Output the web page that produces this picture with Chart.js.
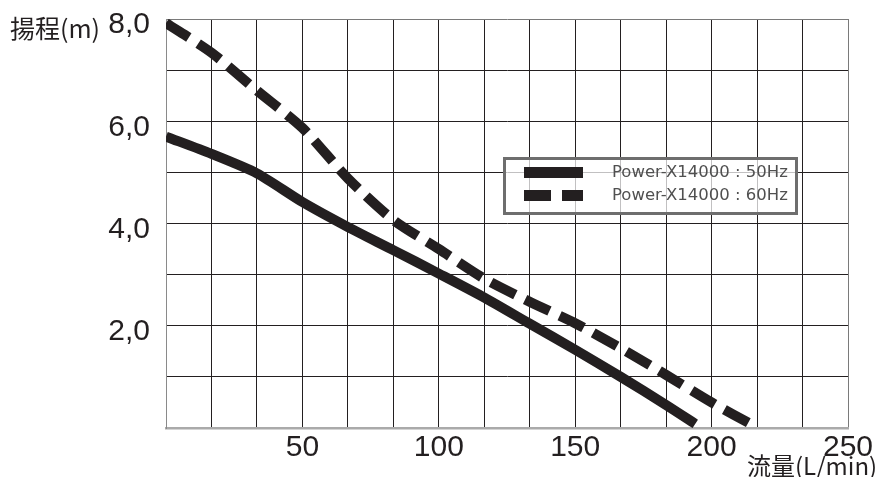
<!DOCTYPE html>
<html>
<head>
<meta charset="utf-8">
<script src="https://cdn.jsdelivr.net/npm/chart.js@4"></script>
<style>
  body { margin: 0; background: #fff; }
  #wrap { width: 875px; height: 477px; }
</style>
</head>
<body>
<div id="wrap"><canvas id="pumpChart"></canvas></div>
<script>
// flow (L/min) / head (m)
const flow50 = [0, 16.7, 33.3, 50, 66.7, 83.3, 100, 116.7, 133.3, 150, 166.7, 183.3, 194];
const head50 = [5.7, 5.36, 4.98, 4.42, 3.93, 3.48, 3.02, 2.55, 2.04, 1.53, 1.0, 0.45, 0.08];
const flow60 = [0, 16.7, 33.3, 50, 66.7, 83.3, 100, 116.7, 133.3, 150, 166.7, 183.3, 200, 216];
const head60 = [7.92, 7.34, 6.6, 5.87, 4.88, 4.07, 3.5, 2.92, 2.47, 2.05, 1.56, 1.04, 0.5, 0.03];
const seriesLabels = ['Power-X14000 : 50Hz', 'Power-X14000 : 60Hz'];
const xTickLabels = [50, 100, 150, 200, 250];
const yTickLabels = [2, 4, 6, 8];
const xTitle = '流量(L/min)';
const yTitle = '揚程(m)';

const ink = '#231f20';
const frame = '#7a7a7a';

function toPoints(xs, ys) {
  return xs.map((x, i) => ({ x: x, y: ys[i] }));
}

// axis titles + legend box inside the plot
const extras = {
  id: 'extras',
  afterDraw(chart) {
    const ctx = chart.ctx;
    ctx.save();
    ctx.fillStyle = ink;
    ctx.textBaseline = 'middle';
    ctx.font = '25px "Noto Sans CJK JP"';
    ctx.fillText(yTitle, 10, 28);
    ctx.font = '24px "Noto Sans CJK JP"';
    ctx.fillText(xTitle, 747, 466);

    // legend
    ctx.fillStyle = 'rgba(255,255,255,0.72)';
    ctx.fillRect(504, 158, 293, 56);
    ctx.strokeStyle = '#6e6e6e';
    ctx.lineWidth = 3;
    ctx.strokeRect(504.5, 158.5, 292, 55);
    const rows = [172.5, 195.5];
    chart.data.datasets.forEach((ds, i) => {
      ctx.beginPath();
      ctx.strokeStyle = ds.borderColor;
      ctx.lineWidth = 11;
      ctx.setLineDash(ds.borderDash || []);
      ctx.moveTo(524, rows[i]);
      ctx.lineTo(583, rows[i]);
      ctx.stroke();
      ctx.setLineDash([]);
      ctx.fillStyle = '#505050';
      ctx.font = '16.5px "DejaVu Sans"';
      ctx.fillText(ds.label, 612, rows[i] + 0.5);
    });
    ctx.restore();
  }
};

const ctx = document.getElementById('pumpChart').getContext('2d');
const pumpChart = new Chart(ctx, {
  type: 'line',
  data: {
    datasets: [{
      label: seriesLabels[0],
      data: toPoints(flow50, head50),
      borderColor: ink,
      borderWidth: 10,
      pointRadius: 0,
      tension: 0.25
    }, {
      label: seriesLabels[1],
      data: toPoints(flow60, head60),
      borderColor: ink,
      borderWidth: 10,
      borderDash: [27, 11],
      pointRadius: 0,
      tension: 0.25
    }]
  },
  options: {
    responsive: true,
    maintainAspectRatio: false,
    animation: false,
    layout: { padding: { top: 19, right: 27, left: 0, bottom: 0 } },
    plugins: {
      legend: { display: false },
      tooltip: { enabled: false }
    },
    scales: {
      x: {
        type: 'linear',
        min: 0,
        max: 250,
        afterFit: s => {
          s.height = 49;
          s.paddingLeft = 0; s.paddingRight = 0;
        },
        afterBuildTicks: axis => {
          const ticks = [];
          for (let i = 0; i <= 15; i++) ticks.push({ value: i * 50 / 3 });
          axis.ticks = ticks;
        },
        ticks: {
          autoSkip: false,
          maxRotation: 0,
          padding: 2,
          color: ink,
          font: { family: 'Liberation Sans', size: 30 },
          callback: v => {
            const r = Math.round(v);
            return Math.abs(v - r) < 0.01 && xTickLabels.includes(r) ? String(r) : '';
          }
        },
        grid: {
          drawTicks: false,
          lineWidth: 1,
          color: c => (c.tick && c.tick.value >= 249.9) ? frame : ink
        },
        border: { color: '#aaaaaa', width: 2.5 }
      },
      y: {
        min: 0,
        max: 8,
        afterFit: s => {
          s.width = 166;
          s.paddingTop = 0; s.paddingBottom = 0;
        },
        ticks: {
          stepSize: 1,
          padding: 16,
          labelOffset: 6,
          color: ink,
          font: { family: 'Liberation Sans', size: 30 },
          callback: v => yTickLabels.includes(v) ? v.toFixed(1).replace('.', ',') : ''
        },
        grid: {
          drawTicks: false,
          lineWidth: 1,
          color: c => (c.tick && c.tick.value === 8) ? frame : ink
        },
        border: { color: '#8a8a8a', width: 1 }
      }
    }
  },
  plugins: [extras]
});
</script>
</body>
</html>
